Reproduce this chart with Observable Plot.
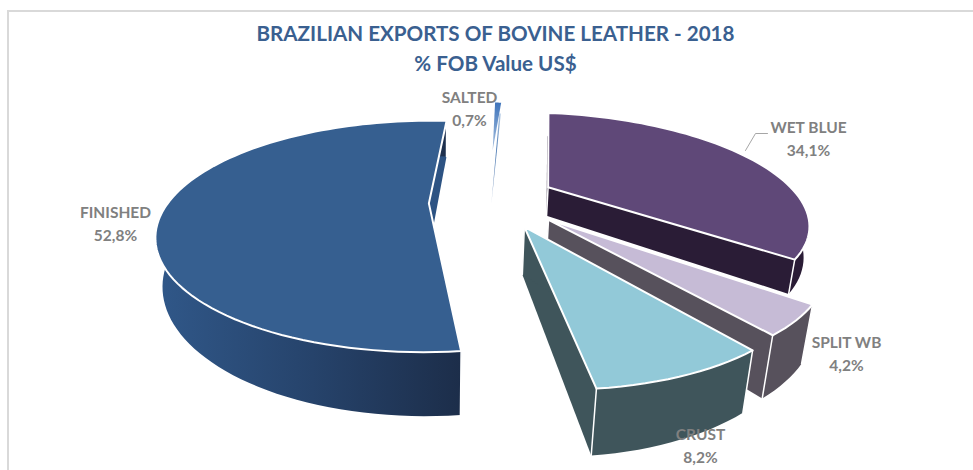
<!DOCTYPE html>
<html><head><meta charset="utf-8">
<script src="https://cdn.jsdelivr.net/npm/d3@7"></script>
<script src="https://cdn.jsdelivr.net/npm/@observablehq/plot@0.6"></script>
<style>
html,body{margin:0;padding:0;background:#fff;overflow:hidden}
#frame{position:absolute;left:7px;top:10px;width:966px;height:460px;border-top:2px solid #d9d9d9;border-left:2px solid #d9d9d9;box-sizing:border-box}
#title{position:absolute;left:0;top:18px;width:991px;height:62px;text-align:center;font:bold 20.6px/30px Lato,sans-serif;color:#3a6090}
#chart{position:absolute;left:0;top:80px}
svg{display:block;background:transparent}
</style></head><body>
<div id="frame"></div>
<div id="title">BRAZILIAN EXPORTS OF BOVINE LEATHER - 2018<br>% FOB Value US$</div>
<div id="chart"></div>
<script>
const categories = ["WET BLUE","SPLIT WB","CRUST","FINISHED","SALTED"];
const shares = [34.1,4.2,8.2,52.8,0.7];
const valueLabels = ["34,1%","4,2%","8,2%","52,8%","0,7%"];
const startAngle = 6.8;
// appearance of each slice, in drawing order
const topColors = ["#5f4878","#c6bbd6","#92c9d8","#365f90","url(#saltedTop)"];
const radialColors = ["#2a1c36","#57515c","#3f555b","#2d5383","none"];
const arcColors = ["#2a1c36","#57515c","#3f555b","url(#finishedWall)","none"];
// exploded centre (u,v), radius, thickness per slice
const centreU = [0.435,0.40,0.305,-0.045,0.235];
const centreV = [-0.18,0.13,0.19,-0.02,-0.605];
const radii = [0.98,0.95,0.97,1.01,0.73];
const depths = [30,47,45,46,0];
const labelX = [808,846,700,115,469];
const labelY = [128,343,435,213,98];

// camera
const X0=440, R=260, Yh=-170, A=375, k=0.284;
const project=(u,v,d=0)=>{const w=1-k*v;const X=X0+R*u/w,Y=Yh+A/w;const h=d/w;return [X0+(X-X0)*(1-h/2000),Y+h];};
const rad=Math.PI/180;
const layerRows=[];   // one row per polygon vertex, grouped by id
let nextId=0;
function polygon(points,fill,stroke,strokeWidth){const id=nextId++;
  points.forEach(([x,y])=>layerRows.push({id,x,y}));
  return {id,fill,stroke,strokeWidth};}
const shapes=[];
let acc=startAngle;
categories.forEach((c,i)=>{
  const a0=acc,a1=acc+shares[i]*3.6;acc=a1;
  const d=depths[i],ctr=[centreU[i],centreV[i]];
  const n=Math.max(6,Math.ceil((a1-a0)/2));
  const arc=d3.range(n+1).map(t=>{const a=(a0+(a1-a0)*t/n)*rad;return [ctr[0]+radii[i]*Math.sin(a),ctr[1]-radii[i]*Math.cos(a)];});
  if(d>0){
    const wall=(P,Q)=>[project(...P),project(...Q),project(...Q,d),project(...P,d)];
    shapes.push(polygon(wall(arc[n],ctr),radialColors[i],"none",0));
    shapes.push(polygon(wall(ctr,arc[0]),radialColors[i],"none",0));
    const top=arc.map(p=>project(...p)),bottom=arc.map(p=>project(...p,d)).reverse();
    shapes.push(polygon([...top,...bottom],arcColors[i],"none",0));
    [arc[0],ctr,arc[n]].forEach(p=>shapes.push(polygon([project(...p),project(...p,d)],"none","#fff",1.5)));
  } else {
    // the thin wall of the sliver
    const mid=[(arc[n][0]+arc[n>>1][0])/2,(arc[n][1]+arc[n>>1][1])/2];
    shapes.push(polygon([project(...arc[n],15),project(...mid,15),project(...ctr,64)],"url(#saltedWall)","none",0));
  }
  shapes.push(polygon([ctr,...arc].map(p=>project(...p)),topColors[i],d>0?"#fff":"none",d>0?2:0));
});
const marks=[
  ()=>{const s=d3.create("svg:g");const defs=s.append("defs");
    const grad=(id,x1,y1,x2,y2,stops)=>{const g=defs.append("linearGradient").attr("id",id).attr("gradientUnits","userSpaceOnUse")
        .attr("x1",x1).attr("y1",y1).attr("x2",x2).attr("y2",y2);
      stops.forEach(([o,c])=>g.append("stop").attr("offset",o).attr("stop-color",c));};
    grad("finishedWall",160,0,464,0,[[0,"#305788"],[0.5,"#26436b"],[1,"#1c2d49"]]);
    grad("saltedTop",0,22,0,70,[[0,"#3f74bb"],[1,"#a9c2e0"]]);
    grad("saltedWall",0,33,0,135,[[0,"#b7cde6"],[0.35,"#4f7db5"],[0.7,"#6f8fbb"],[1,"#e8edf4"]]);
    return s.node();}
];
shapes.forEach(s=>{
  marks.push(Plot.line(layerRows.filter(r=>r.id===s.id),{x:"x",y:"y",fill:s.fill,stroke:s.stroke,strokeWidth:s.strokeWidth,curve:s.fill==="none"?"linear":"linear-closed"}));
});
// leader line of WET BLUE
const leader=[[745,150],[755,133],[767,133]];
marks.push(Plot.line(leader,{x:d=>d[0],y:d=>d[1],stroke:"#a6a6a6",strokeWidth:1}));
const labelData=categories.map((c,i)=>({c,v:valueLabels[i],x:labelX[i],y:labelY[i]}));
const textOpts={x:"x",fontFamily:"Lato, sans-serif",fontWeight:"bold",fontSize:15.5,fill:"#808080",textAnchor:"middle",lineAnchor:"middle"};
marks.push(Plot.text(labelData,{...textOpts,y:"y",text:"c"}));
marks.push(Plot.text(labelData,{...textOpts,y:d=>d.y+23,text:"v"}));
const chart=Plot.plot({width:973,height:390,margin:0,
  x:{domain:[0,973],axis:null},y:{domain:[470,80],axis:null},marks});
document.getElementById("chart").append(chart);
</script></body></html>
